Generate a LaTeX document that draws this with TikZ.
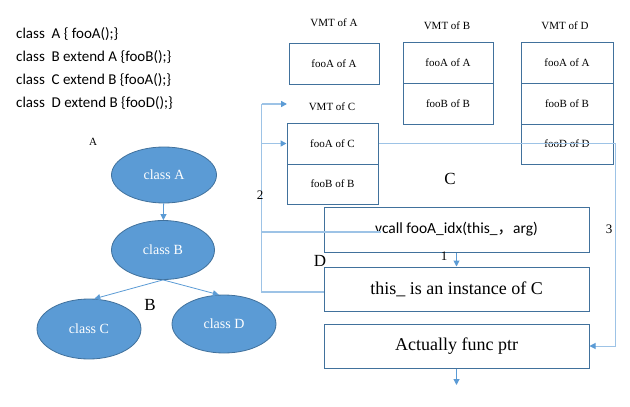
\documentclass[tikz,border=0pt]{standalone}
\usepackage{fontspec}
\setmainfont{Liberation Serif}
\newfontfamily\codefont{Carlito}
\newfontfamily\cjk{Noto Sans CJK SC}
\usetikzlibrary{arrows.meta,shapes.geometric}
\definecolor{ellfill}{HTML}{5B9BD5}
\definecolor{edgeblue}{HTML}{41719C}
\definecolor{linkblue}{HTML}{9DC3E6}
\begin{document}
\begin{tikzpicture}[x=1pt,y=-1pt,
        >={Triangle[length=6pt,width=6pt,color=ellfill]},
        class node/.style={ellipse,draw=edgeblue,line width=0.8pt,fill=ellfill,
            text=white,font=\fontsize{14}{16}\selectfont,inner sep=0pt},
        slot node/.style={rectangle,draw=edgeblue,line width=1pt,inner sep=0pt,
            minimum width=90pt,minimum height=41pt,font=\fontsize{11}{13}\selectfont},
        box node/.style={rectangle,draw=edgeblue,line width=1pt,inner sep=0pt,
            minimum width=265pt,minimum height=44pt},
        code line/.style={anchor=west,inner sep=0pt,font=\codefont\fontsize{15}{17}\selectfont},
        tag/.style={inner sep=0pt,font=\fontsize{11}{13}\selectfont},
        big tag/.style={inner sep=0pt,font=\fontsize{17}{19}\selectfont},
        num/.style={inner sep=0pt,font=\fontsize{13}{15}\selectfont},
        link/.style={draw=linkblue,line width=1.5pt}]

        \useasboundingbox (0,0) rectangle (630,407);

        % Define source lines
        \node[code line] (l1) at (16,34) {class\ \ A \{ fooA();\}};
        \node[code line] (l2) at (16,57) {class\ \ B extend A \{fooB();\}};
        \node[code line] (l3) at (16,80) {class\ \ C extend B \{fooA();\}};
        \node[code line] (l4) at (16,103) {class\ \ D extend B \{fooD();\}};

        % Define class tree
        \node[class node,minimum width=105pt,minimum height=56pt] (A) at (164,175) {class A};
        \node[class node,minimum width=103pt,minimum height=59pt] (B) at (163,250) {class B};
        \node[class node,minimum width=104pt,minimum height=60pt] (C) at (89,329) {class C};
        \node[class node,minimum width=104pt,minimum height=58pt] (D) at (224,324) {class D};
        \node[tag] (tagA) at (93,142) {A};
        \node[big tag] (tagB) at (150,305) {B};

        % Define tables
        \node[tag] (vmtA) at (334,23) {VMT of A};
        \node[slot node] (aA) at (334,63.5) {fooA of A};

        \node[tag] (vmtB) at (447,26) {VMT of B};
        \node[slot node] (bA) at (448,62.5) {fooA of A};
        \node[slot node] (bB) at (448,103.5) {fooB of B};

        \node[tag] (vmtD) at (565,26) {VMT of D};
        \node[slot node,minimum width=92pt] (dA) at (567,62.5) {fooA of A};
        \node[slot node,minimum width=92pt] (dB) at (567,103.5) {fooB of B};
        \node[slot node,minimum width=92pt,minimum height=40pt] (dD) at (567,144) {fooD of D};

        \node[tag] (vmtC) at (332,107) {VMT of C};
        \node[slot node,minimum width=91pt] (cA) at (332.5,143.5) {fooA of C};
        \node[slot node,minimum width=91pt,minimum height=40pt] (cB) at (332.5,184) {fooB of B};
        \node[big tag] (tagC) at (450,179) {C};

        % Define call steps
        \node[box node,minimum height=45pt,font=\codefont\fontsize{15.5}{17}\selectfont]
            (call) at (456.5,229.5) {\raisebox{-2.5pt}{vcall fooA\_idx(this\_{\cjk ，}arg)}};
        \node[box node,font=\fontsize{18}{21}\selectfont] (inst) at (456.5,289) {this\_\ is an instance of C};
        \node[box node,font=\fontsize{18}{21}\selectfont] (func) at (456.5,346) {Actually func ptr};
        \node[big tag] (tagD) at (320,261) {D};

        \coordinate (vmtTip) at (287,104);
        \coordinate (callPt) at (381,232);
        \coordinate (out) at (456.5,385);

        % Draw edges
        \path[->,ellfill,line width=0.8pt]
            (A) edge (B)
            (B.south) edge (C.80)
            (B.south) edge (D.100);

        \draw[link] (inst.west) ++(0,3) -- ++(-62,0) coordinate (low) -- (low |- vmtTip);
        \draw[link,->] (low |- vmtTip) -- (vmtTip);
        \draw[link,->] (low |- cA.west) -- (cA.west);
        \draw[link] (low |- callPt) -- (callPt);
        \draw[link,line width=1pt,->] (cA.east) -- ++(237,0) |- (func.east);
        \draw[draw=ellfill,line width=1pt,->] (call) -- (inst);
        \draw[draw=ellfill,line width=1pt,->] (func) -- (out);

        % Step numbers
        \node[num] (n1) at (444,256) {1};
        \node[num] (n2) at (260,195) {2};
        \node[num] (n3) at (609,229) {3};

        \end{tikzpicture}
\end{document}
